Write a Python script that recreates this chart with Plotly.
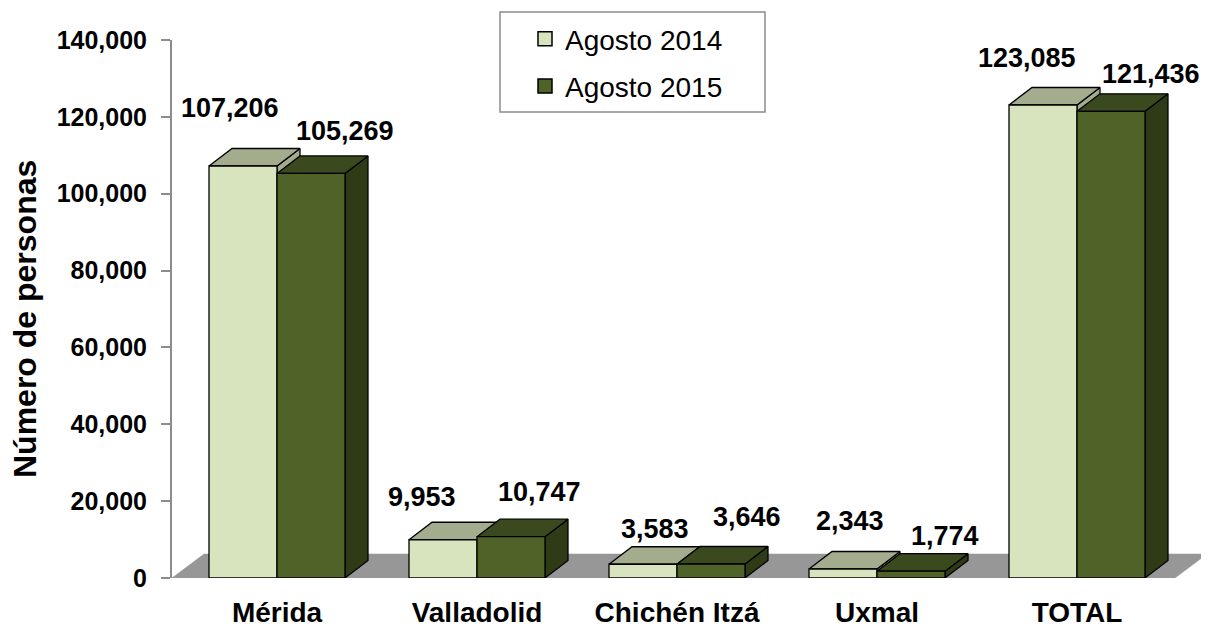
import plotly.graph_objects as go

# ---- data ----
categories = ["Mérida", "Valladolid", "Chichén Itzá", "Uxmal", "TOTAL"]
series_names = ["Agosto 2014", "Agosto 2015"]
ago_2014 = [107206, 9953, 3583, 2343, 123085]
ago_2015 = [105269, 10747, 3646, 1774, 121436]
y_ticks = [0, 20000, 40000, 60000, 80000, 100000, 120000, 140000]

# ---- styles ----
FONT = "Liberation Sans, Arial, sans-serif"
front_cols = ["#D7E4BD", "#4F6228"]
top_cols = ["#A3AD8D", "#3B4A1E"]
side_cols = ["#A3AD8D", "#2F3B17"]
# per-label placement (pixels) mimicking the original label layout
label_dx = [[-13, -21, 12, 7, -16], [34, 28, 36, 34, 40]]
label_dy = [[58, 43, 35, 48, 47], [42, 45, 47, 35, 37]]

PAGE_OFF = 8  # default body margin of the html page
W, H = 1209 - PAGE_OFF, 628 - PAGE_OFF
ML, MR, MT, MB = 172 - PAGE_OFF, 1, 40 - PAGE_OFF, 50
plot_w = W - ML - MR
plot_h = H - MT - MB
PX_PER_X = 200.0
x_min = -0.525
x_max = x_min + plot_w / PX_PER_X
y_max = 140000
PX_PER_Y = plot_h / y_max

BAR_W = 0.34
DX = 23 / PX_PER_X
DY = 17.5 / PX_PER_Y
FDX = 32 / PX_PER_X
FDY = 24 / PX_PER_Y
floor_right = x_min + 1003 / PX_PER_X

fig = go.Figure()


def poly(xs, ys, fill, line_w=1.3, line_col="black"):
    fig.add_trace(go.Scatter(
        x=xs + [xs[0]], y=ys + [ys[0]], mode="lines", fill="toself",
        fillcolor=fill, line=dict(color=line_col, width=line_w),
        hoverinfo="skip", showlegend=False))


# floor
poly([x_min, floor_right, floor_right + FDX, x_min + FDX],
     [0, 0, FDY, FDY], "#979797", line_w=0.5, line_col="#979797")

series = [ago_2014, ago_2015]
for i in range(len(categories)):
    for s, vals in enumerate(series):
        h = vals[i]
        x0 = i + (s - 1) * BAR_W
        x1 = x0 + BAR_W
        # side
        poly([x1, x1 + DX, x1 + DX, x1], [0, DY, h + DY, h], side_cols[s])
        # top
        poly([x0, x1, x1 + DX, x0 + DX], [h, h, h + DY, h + DY], top_cols[s])
        # front
        poly([x0, x1, x1, x0], [0, 0, h, h], front_cols[s])
        fig.add_annotation(
            x=(x0 + x1) / 2, y=h, text=f"{h:,}", showarrow=False,
            xshift=label_dx[s][i], yshift=label_dy[s][i],
            font=dict(family=FONT, size=27, color="black", weight="bold"))

# legend entries
for s, name in enumerate(series_names):
    fig.add_trace(go.Scatter(
        x=[None], y=[None], mode="markers", name=name, legendgroup=name,
        marker=dict(symbol="square", size=14, color=front_cols[s],
                    line=dict(color="black", width=1.5))))

# legend box (page pixel coords)
bx0, bx1, by0, by1 = 500, 765, 12, 112
left_pg = ML + PAGE_OFF
bottom_pg = H - MB + PAGE_OFF
fig.add_shape(type="rect", xref="paper", yref="paper",
              x0=(bx0 - left_pg) / plot_w, x1=(bx1 - left_pg) / plot_w,
              y0=(bottom_pg - by1) / plot_h, y1=(bottom_pg - by0) / plot_h,
              line=dict(color="#8C8C8C", width=1.5), fillcolor="rgba(0,0,0,0)")

# y axis title
fig.add_annotation(
    xref="paper", yref="paper", x=0, y=0.5, xshift=-147, yshift=-10,
    xanchor="center", yanchor="middle",
    text="Número de personas", textangle=-90, showarrow=False,
    font=dict(family=FONT, size=32, color="black", weight="bold"))

fig.update_layout(
    width=W, height=H,
    margin=dict(l=ML, r=MR, t=MT, b=MB, autoexpand=False),
    paper_bgcolor="white", plot_bgcolor="white",
    showlegend=True,
    legend=dict(x=(525 - left_pg) / plot_w, y=(bottom_pg - 14) / plot_h,
                xanchor="left", yanchor="top",
                bgcolor="rgba(0,0,0,0)", borderwidth=0,
                tracegroupgap=8,
                font=dict(family=FONT, size=28, color="black")),
    xaxis=dict(range=[x_min, x_max], showgrid=False, zeroline=False,
               showline=False, tickmode="array", automargin=False,
               tickvals=list(range(len(categories))), ticktext=categories,
               ticks="", ticklabelstandoff=15,
               tickfont=dict(family=FONT, size=28, color="black", weight="bold")),
    yaxis=dict(range=[0, y_max], showgrid=False, zeroline=False,
               showline=True, linecolor="#8C8C8C", linewidth=2,
               automargin=False,
               tickmode="array", tickvals=y_ticks, tickformat=",d",
               ticks="outside", ticklen=9, tickwidth=2, tickcolor="#8C8C8C",
               ticklabelstandoff=9,
               tickfont=dict(family=FONT, size=25, color="black", weight="bold")),
)

fig.write_html("out.html")
